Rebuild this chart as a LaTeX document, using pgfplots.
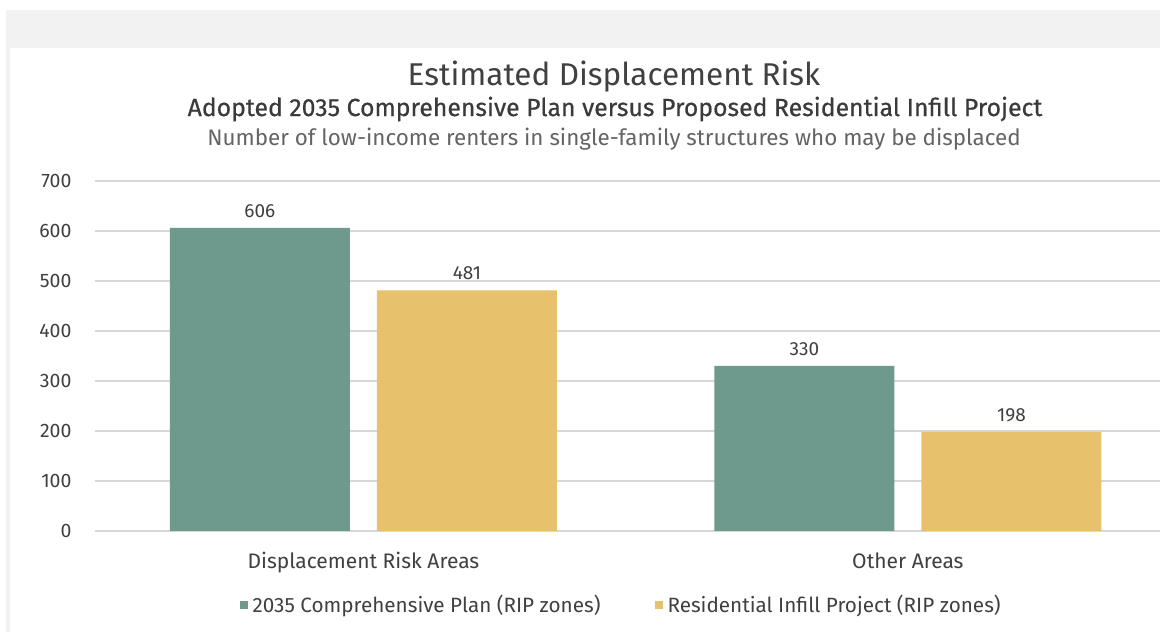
\documentclass[border=0pt]{standalone}
\usepackage{fontspec}
\setmainfont{Fira Sans}
\newfontfamily\subfont[FakeBold=0.5]{Fira Sans}
\usepackage{pgfplots}
\pgfplotsset{compat=1.18}
\definecolor{tealbar}{RGB}{110,154,142}
\definecolor{goldbar}{RGB}{231,193,108}
\definecolor{txt}{RGB}{64,64,64}
\definecolor{subtxt}{RGB}{100,100,100}
\definecolor{band}{RGB}{242,242,242}
\definecolor{gridc}{RGB}{215,215,215}

\begin{document}
\begin{tikzpicture}
\path[use as bounding box] (0pt,0pt) rectangle (1160pt,632pt);
\fill[white] (0pt,0pt) rectangle (1160pt,632pt);
\fill[band] (6pt,584pt) rectangle (1160pt,622pt);
\fill[band] (6pt,0pt) rectangle (10pt,584pt);

\node[font=\fontsize{31.5}{34}\selectfont, text=txt] at (614pt,555pt) {Estimated Displacement Risk};
\node[font=\subfont\fontsize{24.8}{27}\selectfont, text=txt!90!black] at (615pt,523pt) {Adopted 2035 Comprehensive Plan versus Proposed Residential Infill Project};
\node[font=\fontsize{22.4}{25}\selectfont, text=subtxt] at (614pt,493pt) {Number of low-income renters in single-family structures who may be displaced};

\begin{axis}[
    at={(95pt,101pt)}, anchor=south west,
    scale only axis, width=1065pt, height=350pt,
    ybar,
    bar width=180pt,
    xmin=-0.493, xmax=1.463,
    ymin=0, ymax=700,
    xtick={0,1},
    xticklabels={Displacement Risk Areas, Other Areas},
    ytick={0,100,...,700},
    axis line style={draw=none},
    major tick length=0pt,
    ymajorgrids,
    grid style={line width=1.2pt, color=gridc},
    /pgf/number format/assume math mode=true,
    yticklabel style={font=\fontsize{19.5}{22}\selectfont, text=txt, xshift=-20pt},
    xticklabel style={font=\fontsize{21}{24}\selectfont, text=txt, yshift=-18pt},
    nodes near coords,
    nodes near coords style={font=\fontsize{19}{22}\selectfont, text=txt, yshift=7pt},
    legend image code/.code={\fill[#1] (0pt,-4pt) rectangle (8pt,4pt); \path (11pt,0pt);},
    legend columns=2,
    legend style={at={(0.494,-0.211)}, anchor=center, draw=none, fill=none,
        font=\fontsize{20.7}{23}\selectfont, text=txt,
        /tikz/every even column/.append style={column sep=52pt}},
    legend cell align=left,
]
\addplot[fill=tealbar, draw=none, bar shift=-103.5pt] coordinates {(0,606) (1,330)};
\addplot[fill=goldbar, draw=none, bar shift=103.5pt] coordinates {(0,481) (1,198)};
\legend{2035 Comprehensive Plan (RIP zones), Residential Infill Project (RIP zones)}
\end{axis}
\end{tikzpicture}
\end{document}
